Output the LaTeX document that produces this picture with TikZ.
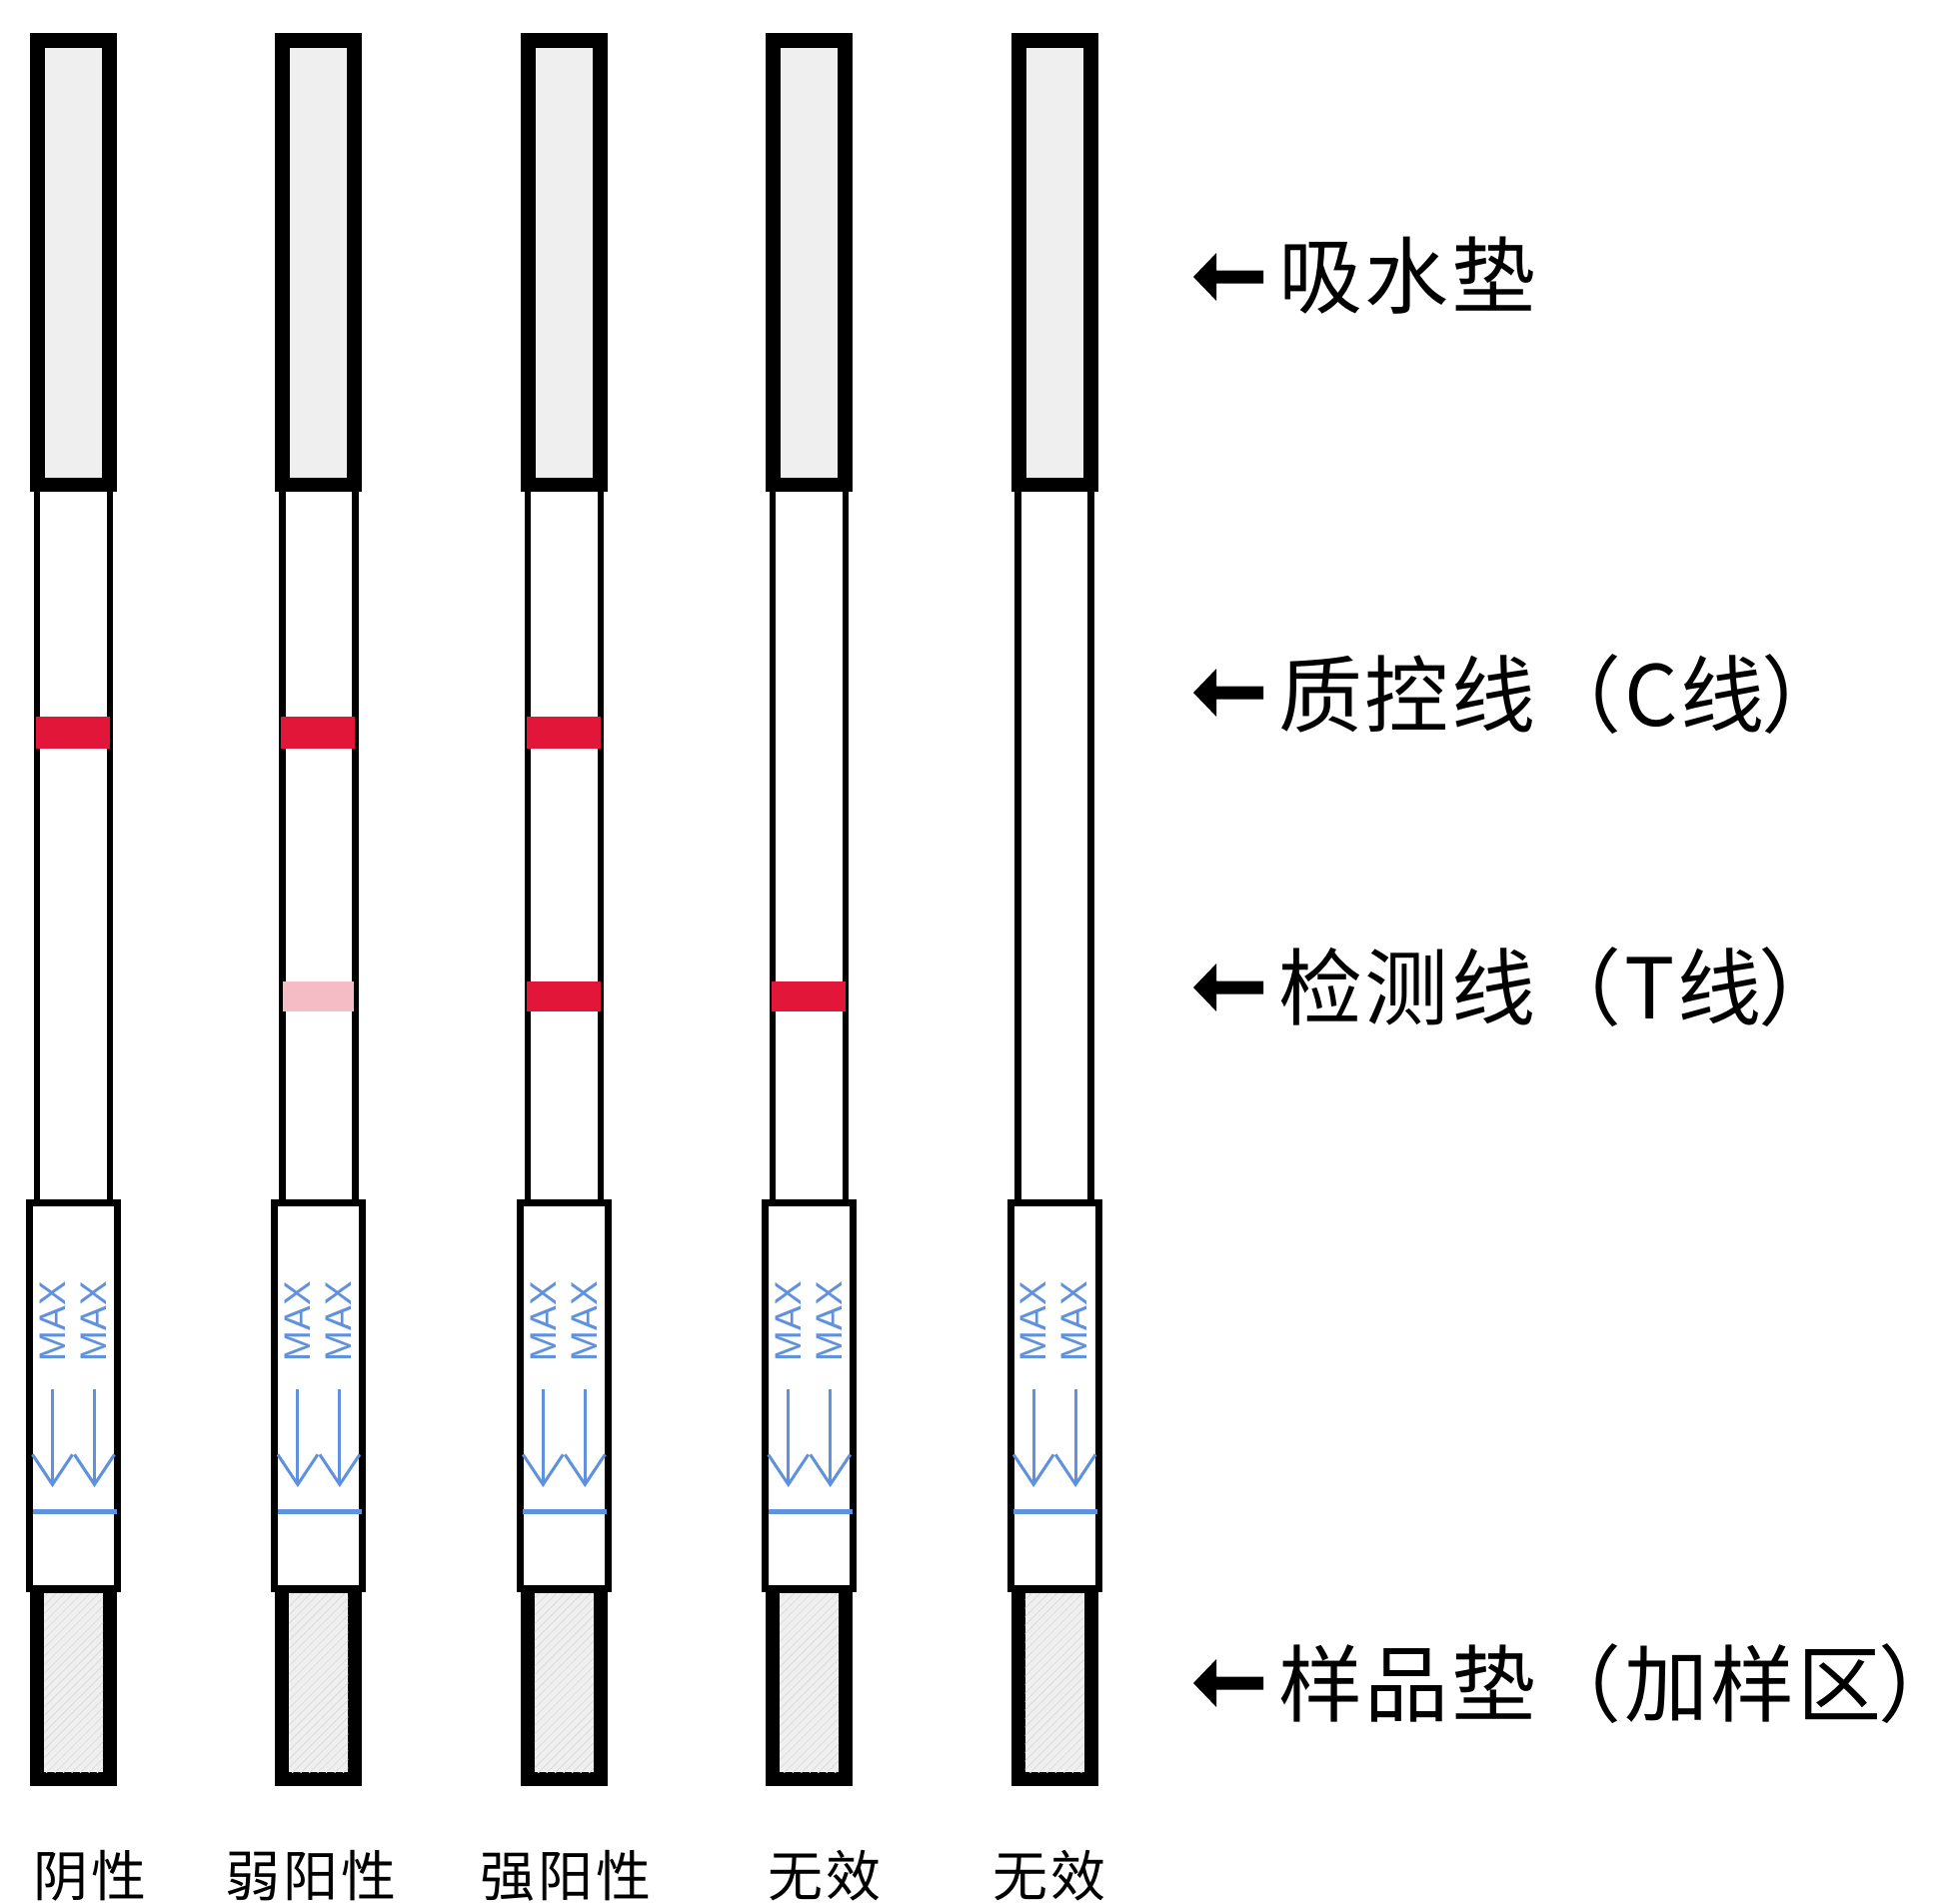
\documentclass[tikz,border=0pt]{standalone}
\usepackage{fontspec}
\newfontfamily\cjk[LetterSpace=3]{Noto Sans CJK SC}
\newfontfamily\cjkclose[LetterSpace=0,RawFeature=+palt]{Noto Sans CJK SC}
\newfontfamily\cjksmall[LetterSpace=5]{Noto Sans CJK SC}
\newfontfamily\maxfont{Liberation Sans}
\usetikzlibrary{arrows.meta,patterns.meta}
\definecolor{padgray}{HTML}{EFEFEF}
\definecolor{lineRed}{RGB}{226,22,56}
\definecolor{linePink}{RGB}{246,188,198}
\definecolor{maxBlue}{RGB}{96,145,222}
\newcommand{\closeparen}{{\cjkclose\fontsize{84}{90}\selectfont ）}}
\tikzset{
  outerblack/.style={fill=black},
  padinner/.style={fill=padgray},
  hatchinner/.style={fill=padgray,postaction={pattern={Lines[angle=45,distance=6pt,line width=0.8pt]},pattern color=black!14}},
  sideline/.style={draw=black,line width=6.5pt},
  maxbox/.style={draw=black,fill=white,line width=7pt},
  maxtext/.style={font=\maxfont\fontsize{37}{40}\selectfont,text=maxBlue,rotate=90,inner sep=0pt},
  flowarrow/.style={draw=maxBlue,line width=3pt,-{Straight Barb[length=30pt,width=40pt,line width=3pt]}},
  fillline/.style={draw=maxBlue,line width=5pt},
  labeltext/.style={font=\cjk\fontsize{84}{90}\selectfont,anchor=base west,inner sep=0pt},
  resulttext/.style={font=\cjksmall\fontsize{55}{60}\selectfont,anchor=base,inner sep=0pt},
  labelarrow/.style={fill=black}
}
\begin{document}
\begin{tikzpicture}[x=1pt,y=-1pt]
\useasboundingbox (0,0) rectangle (1943,1905);
\fill[white] (0,0) rectangle (1943,1905);

\foreach \i/\c/\t in {0/1/0,1/1/2,2/1/1,3/0/1,4/0/0}{
  \pgfmathsetmacro\cx{73.5+245.4*\i}
  % membrane side lines
  \draw[sideline] (\cx-36.5,490) -- (\cx-36.5,1202);
  \draw[sideline] (\cx+36.5,490) -- (\cx+36.5,1202);
  % absorbent pad
  \fill[outerblack] (\cx-43.5,33) rectangle (\cx+43.5,492);
  \fill[padinner] (\cx-28.5,48) rectangle (\cx+28.5,478);
  % sample pad
  \fill[outerblack] (\cx-43.5,1586) rectangle (\cx+43.5,1787);
  \fill[hatchinner] (\cx-29.5,1594) rectangle (\cx+29.5,1773);
  % MAX box
  \draw[maxbox] (\cx-44,1203.5) rectangle (\cx+44,1589.5);
  \node[maxtext] (maxa\i) at (\cx-21,1322) {MAX};
  \node[maxtext] (maxb\i) at (\cx+20,1322) {MAX};
  \coordinate (arra\i) at (\cx-21,1390);
  \coordinate (arrb\i) at (\cx+21,1390);
  \coordinate (enda\i) at (\cx-21,1488);
  \coordinate (endb\i) at (\cx+21,1488);
  \draw[flowarrow] (arra\i) -- (enda\i);
  \draw[flowarrow] (arrb\i) -- (endb\i);
  \draw[fillline] (\cx-41,1512) -- (\cx+43,1512);
  % control line
  \ifnum\c=1
    \fill[lineRed] (\cx-37.5,717) rectangle (\cx+36.5,749);
  \fi
  % test line
  \ifnum\t=1
    \fill[lineRed] (\cx-37.5,982) rectangle (\cx+36.5,1012);
  \fi
  \ifnum\t=2
    \fill[linePink] (\cx-35.5,982) rectangle (\cx+35.5,1012);
  \fi
}

% right-hand labels
\node[labeltext] (lab1) at (1279,307) {吸水垫};
\node[labeltext] (lab2) at (1279,726) {质控线（C线\closeparen};
\node[labeltext] (lab3) at (1279,1019) {检测线（T线\closeparen};
\node[labeltext] (lab4) at (1279,1716) {样品垫（加样区\closeparen};
\foreach \n/\yc in {lab1/277,lab2/693,lab3/988,lab4/1684}{
  \fill[labelarrow] (1194,\yc) -- (1217,\yc-24) -- (1217,\yc-6.5) -- (1264,\yc-6.5)
     -- (1264,\yc+6.5) -- (1217,\yc+6.5) -- (1217,\yc+24) -- cycle;
}

% result labels
\node[resulttext] (res1) at (90,1897) {阴性};
\node[resulttext] (res2) at (311,1897) {弱阳性};
\node[resulttext] (res3) at (566,1897) {强阳性};
\node[resulttext] (res4) at (825,1897) {无效};
\node[resulttext] (res5) at (1050,1897) {无效};
\end{tikzpicture}
\end{document}
